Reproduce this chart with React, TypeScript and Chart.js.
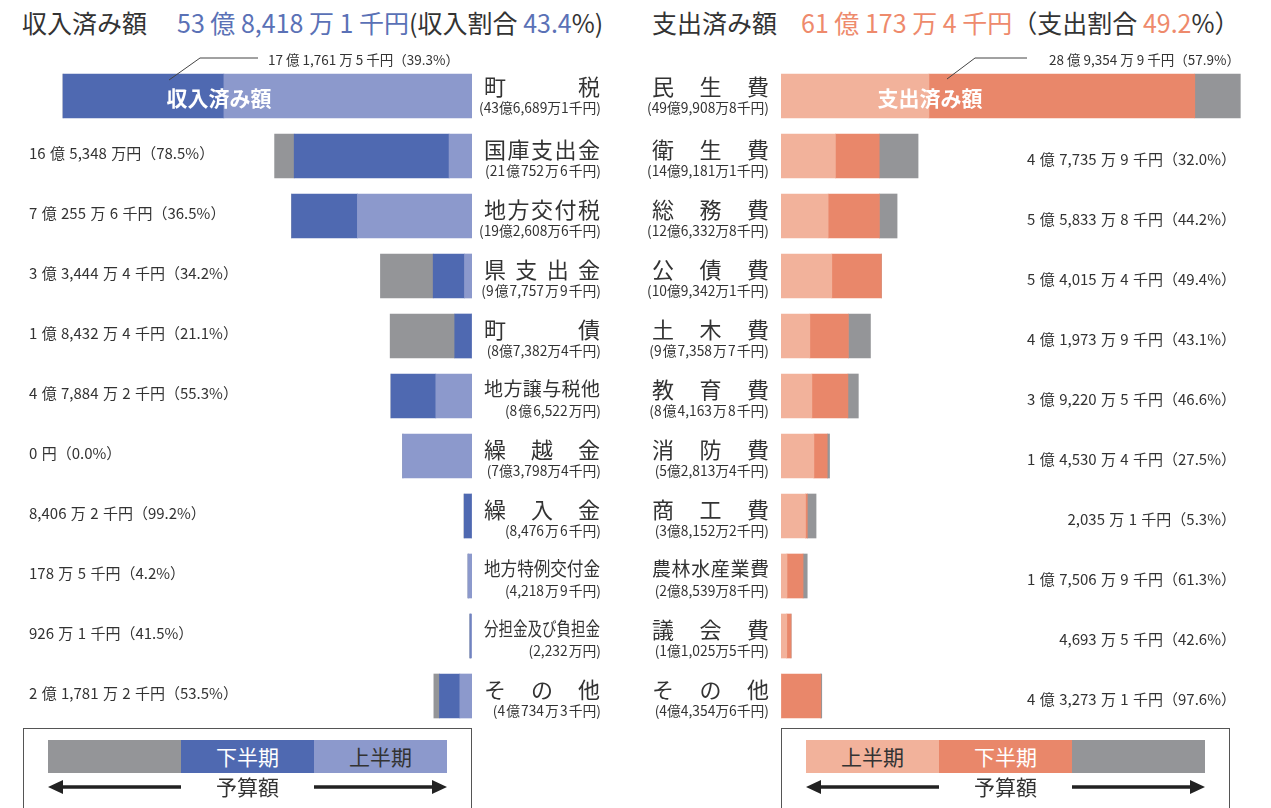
import React, { useEffect, useRef } from 'react';
import { Chart, registerables } from 'chart.js';

Chart.register(...registerables);

// ---------- Data (amounts in 億円) ----------
const incomeCategories = ['町税', '国庫支出金', '地方交付税', '県支出金', '町債', '地方譲与税他', '繰越金', '繰入金', '地方特例交付金', '分担金及び負担金', 'その他'];
const incomeBudgetText = ['(43億6,689万1千円)', '(21 億 752 万 6 千円)', '(19億2,608万6千円)', '(9 億 7,757 万 9 千円)', '(8億7,382万4千円)', '(8 億 6,522 万円)', '(7億3,798万4千円)', '(8,476 万 6 千円)', '(4,218 万 9 千円)', '(2,232 万円)', '(4 億 734 万 3 千円)'];
const incomeAmountText = ['17 億 1,761 万 5 千円（39.3%）', '16 億 5,348 万円（78.5%）', '7 億 255 万 6 千円（36.5%）', '3 億 3,444 万 4 千円（34.2%）', '1 億 8,432 万 4 千円（21.1%）', '4 億 7,884 万 2 千円（55.3%）', '0 円（0.0%）', '8,406 万 2 千円（99.2%）', '178 万 5 千円（4.2%）', '926 万 1 千円（41.5%）', '2 億 1,781 万 2 千円（53.5%）'];
const incomeBudget = [43.66891, 21.07526, 19.26086, 9.77579, 8.73824, 8.6522, 7.37984, 0.84766, 0.42189, 0.2232, 4.07343];
const incomeFirstHalf = [26.49, 2.45, 12.235, 0.8, 0, 3.864, 7.37984, 0, 0.404, 0.13, 1.3];
const incomeSecondHalf = [17.17615, 16.5348, 7.02556, 3.34444, 1.84324, 4.78842, 0, 0.84062, 0.01785, 0.09261, 2.17812];

const expCategories = ['民生費', '衛生費', '総務費', '公債費', '土木費', '教育費', '消防費', '商工費', '農林水産業費', '議会費', 'その他'];
const expBudgetText = ['(49億9,908万8千円)', '(14億9,181万1千円)', '(12億6,332万8千円)', '(10億9,342万1千円)', '(9 億 7,358 万 7 千円)', '(8 億 4,163 万 8 千円)', '(5億2,813万4千円)', '(3億8,152万2千円)', '(2億8,539万8千円)', '(1億1,025万5千円)', '(4億4,354万6千円)'];
const expAmountText = ['28 億 9,354 万 9 千円（57.9%）', '4 億 7,735 万 9 千円（32.0%）', '5 億 5,833 万 8 千円（44.2%）', '5 億 4,015 万 4 千円（49.4%）', '4 億 1,973 万 9 千円（43.1%）', '3 億 9,220 万 5 千円（46.6%）', '1 億 4,530 万 4 千円（27.5%）', '2,035 万 1 千円（5.3%）', '1 億 7,506 万 9 千円（61.3%）', '4,693 万 5 千円（42.6%）', '4 億 3,273 万 1 千円（97.6%）'];
const expBudget = [49.99088, 14.91811, 12.63328, 10.93421, 9.73587, 8.41638, 5.28134, 3.81522, 2.85398, 1.10255, 4.43546];
const expFirstHalf = [16.1, 5.92, 5.13, 5.53, 3.14, 3.36, 3.58, 2.66, 0.65, 0.63, 0];
const expSecondHalf = [28.93549, 4.77359, 5.58338, 5.40154, 4.19739, 3.92205, 1.45304, 0.20351, 1.75069, 0.46935, 4.32731];

const incomeRest = incomeBudget.map((b, i) => Math.max(0, b - incomeFirstHalf[i] - incomeSecondHalf[i]));
const expRest = expBudget.map((b, i) => Math.max(0, b - expFirstHalf[i] - expSecondHalf[i]));

// ---------- Style ----------
const FONT = "'Noto Sans CJK JP', 'Noto Sans', sans-serif";
const TXT = '#333333';
const BLUE_DARK = '#4f69b1';
const BLUE_LIGHT = '#8c99cc';
const GRAY = '#949598';
const SAL_LIGHT = '#f2b29b';
const SAL_DARK = '#e9876a';
const TITLE_BLUE = '#5a71b6';
const TITLE_SAL = '#ee8a6c';

const CHART_TOP = 66;
const ROW_H = 60;
const rowY = (i: number) => CHART_TOP + ROW_H / 2 + ROW_H * i;

function BarChart(props: { left: number; width: number; max: number; reverse: boolean; labels: string[]; first: number[]; second: number[]; rest: number[]; colors: string[] }) {
  const ref = useRef<HTMLCanvasElement>(null);
  useEffect(() => {
    const chart = new Chart(ref.current as HTMLCanvasElement, {
      type: 'bar',
      data: {
        labels: props.labels,
        datasets: [
          { label: '上半期', data: props.first, backgroundColor: props.colors[0], borderWidth: 0, barThickness: 44 },
          { label: '下半期', data: props.second, backgroundColor: props.colors[1], borderWidth: 0, barThickness: 44 },
          { label: '予算残', data: props.rest, backgroundColor: props.colors[2], borderWidth: 0, barThickness: 44 },
        ],
      },
      options: {
        indexAxis: 'y',
        responsive: false,
        maintainAspectRatio: false,
        animation: false,
        layout: { padding: 0 },
        plugins: { legend: { display: false }, tooltip: { enabled: false } },
        scales: {
          x: { display: false, stacked: true, min: 0, max: props.max, reverse: props.reverse },
          y: { display: false, stacked: true },
        },
      },
    } as any);
    return () => chart.destroy();
  }, []);
  return (
    <canvas
      ref={ref}
      width={props.width}
      height={ROW_H * 11}
      style={{ position: 'absolute', left: props.left, top: CHART_TOP, width: props.width, height: ROW_H * 11 }}
    />
  );
}

function Txt(props: { x: number; cy: number; size: number; children: any; align?: 'left' | 'right' | 'center'; w?: number; color?: string; bold?: boolean; style?: any }) {
  const h = Math.round(props.size * 1.4);
  const align = props.align || 'left';
  const w = props.w || 400;
  let left = props.x;
  if (align === 'right') left = props.x - w;
  if (align === 'center') left = props.x - w / 2;
  return (
    <div
      style={{
        position: 'absolute', left, top: props.cy - h / 2, width: w, height: h, lineHeight: h + 'px',
        fontSize: props.size, textAlign: align, whiteSpace: 'nowrap', color: props.color || TXT,
        fontWeight: props.bold ? 700 : 400, ...(props.style || {}),
      }}
    >
      {props.children}
    </div>
  );
}

function Name(props: { x: number; cy: number; w: number; text: string }) {
  const n = props.text.length;
  if (n <= 6) {
    const size = n <= 5 ? 22 : 19;
    const h = 30;
    return (
      <div style={{ position: 'absolute', left: props.x, top: props.cy - h / 2, width: props.w, height: h, lineHeight: h + 'px', fontSize: size, color: TXT, textAlign: 'justify', textAlignLast: 'justify', whiteSpace: 'nowrap' } as any}>
        {props.text}
      </div>
    );
  }
  const size = 19;
  const k = props.w / (size * n);
  const h = 30;
  return (
    <div style={{ position: 'absolute', left: props.x, top: props.cy - h / 2, height: h, lineHeight: h + 'px', fontSize: size, color: TXT, whiteSpace: 'nowrap', transform: `scaleX(${k})`, transformOrigin: 'left center' }}>
      {props.text}
    </div>
  );
}

function Legend(props: { x: number; segs: { color: string; text: string; tc: string }[] }) {
  const bx = props.x;
  const segW = 133;
  const barL = bx + 25;
  const arrowY = 787;
  return (
    <>
      <div style={{ position: 'absolute', left: bx, top: 728, width: segW * 3 + 50 - 2, height: 100, border: '1px solid #555' }} />
      {props.segs.map((s, i) => (
        <div key={i} style={{ position: 'absolute', left: barL + segW * i, top: 740, width: segW, height: 33, background: s.color, color: s.tc, fontSize: 21, lineHeight: '33px', textAlign: 'center' }}>
          {s.text}
        </div>
      ))}
      <svg style={{ position: 'absolute', left: 0, top: 0 }} width={1271} height={808}>
        <line x1={barL + 10} y1={arrowY} x2={barL + segW} y2={arrowY} stroke="#222" strokeWidth={3.5} />
        <polygon points={`${barL},${arrowY} ${barL + 15},${arrowY - 7} ${barL + 15},${arrowY + 7}`} fill="#222" />
        <line x1={barL + segW * 2} y1={arrowY} x2={barL + segW * 3 - 10} y2={arrowY} stroke="#222" strokeWidth={3.5} />
        <polygon points={`${barL + segW * 3},${arrowY} ${barL + segW * 3 - 15},${arrowY - 7} ${barL + segW * 3 - 15},${arrowY + 7}`} fill="#222" />
      </svg>
      <Txt x={barL + segW * 1.5} cy={arrowY - 1} size={21} align="center" w={130}>予算額</Txt>
    </>
  );
}

export default function App() {
  const L_SCALE = 9.366; // px per 億
  const R_EDGE = 781;
  const R_SCALE = 9.188;
  return (
    <div style={{ position: 'fixed', left: 0, top: 0, width: 1271, height: 808, background: '#fff', overflow: 'hidden', fontFamily: FONT, color: TXT }}>
      {/* Titles */}
      <Txt x={22} cy={22} size={25} w={620}>
        <span>収入済み額</span>
        <span style={{ marginLeft: 30, color: TITLE_BLUE }}>53 億 8,418 万 1 千円</span>
        <span>(収入割合 </span>
        <span style={{ color: TITLE_BLUE }}>43.4</span>
        <span>%)</span>
      </Txt>
      <Txt x={652} cy={22} size={25} w={620}>
        <span>支出済み額</span>
        <span style={{ marginLeft: 24, color: TITLE_SAL }}>61 億 173 万 4 千円</span>
        <span>（支出割合 </span>
        <span style={{ color: TITLE_SAL }}>49.2</span>
        <span>%）</span>
      </Txt>

      <BarChart left={0} width={472} max={472 / L_SCALE} reverse={true} labels={incomeCategories} first={incomeFirstHalf} second={incomeSecondHalf} rest={incomeRest} colors={[BLUE_LIGHT, BLUE_DARK, GRAY]} />
      <BarChart left={R_EDGE} width={1271 - R_EDGE} max={(1271 - R_EDGE) / R_SCALE} reverse={false} labels={expCategories} first={expFirstHalf} second={expSecondHalf} rest={expRest} colors={[SAL_LIGHT, SAL_DARK, GRAY]} />

      {/* in-bar labels */}
      <Txt x={219} cy={97} size={21} align="center" w={140} color="#fff" bold>収入済み額</Txt>
      <Txt x={930} cy={97} size={21} align="center" w={140} color="#fff" bold>支出済み額</Txt>

      {/* leader lines */}
      <svg style={{ position: 'absolute', left: 0, top: 0 }} width={1271} height={808}>
        <polyline points="169,80 200,58 258,58" fill="none" stroke="#444" strokeWidth={1} />
        <polyline points="947,79 975,58 1027,58" fill="none" stroke="#444" strokeWidth={1} />
      </svg>
      <Txt x={268} cy={59} size={13.5}>{incomeAmountText[0]}</Txt>
      <Txt x={1240} cy={59} size={13.5} align="right" w={300}>{expAmountText[0]}</Txt>

      {/* row labels */}
      {incomeCategories.map((c, i) => (
        <React.Fragment key={'i' + i}>
          {i > 0 && <Txt x={29} cy={rowY(i) - 4} size={15} style={{ wordSpacing: '1px' }}>{incomeAmountText[i]}</Txt>}
          <Name x={484} cy={rowY(i) + (i === 0 ? -11 : -8)} w={116} text={c} />
          <Txt x={601} cy={rowY(i) + (i === 0 ? 11 : 14)} size={13.8} align="right" w={200} style={{ wordSpacing: '-2px' }}>{incomeBudgetText[i]}</Txt>
        </React.Fragment>
      ))}
      {expCategories.map((c, i) => (
        <React.Fragment key={'e' + i}>
          {i > 0 && <Txt x={1236} cy={rowY(i) + 2} size={15} align="right" w={400} style={{ wordSpacing: '1px' }}>{expAmountText[i]}</Txt>}
          <Name x={652} cy={rowY(i) + (i === 0 ? -11 : -8)} w={117} text={c} />
          <Txt x={769} cy={rowY(i) + (i === 0 ? 11 : 14)} size={13.8} align="right" w={200} style={{ wordSpacing: '-2px' }}>{expBudgetText[i]}</Txt>
        </React.Fragment>
      ))}

      {/* legends */}
      <Legend x={23} segs={[{ color: GRAY, text: '', tc: '#fff' }, { color: BLUE_DARK, text: '下半期', tc: '#fff' }, { color: BLUE_LIGHT, text: '上半期', tc: TXT }]} />
      <Legend x={781} segs={[{ color: SAL_LIGHT, text: '上半期', tc: TXT }, { color: SAL_DARK, text: '下半期', tc: '#fff' }, { color: GRAY, text: '', tc: '#fff' }]} />
    </div>
  );
}
